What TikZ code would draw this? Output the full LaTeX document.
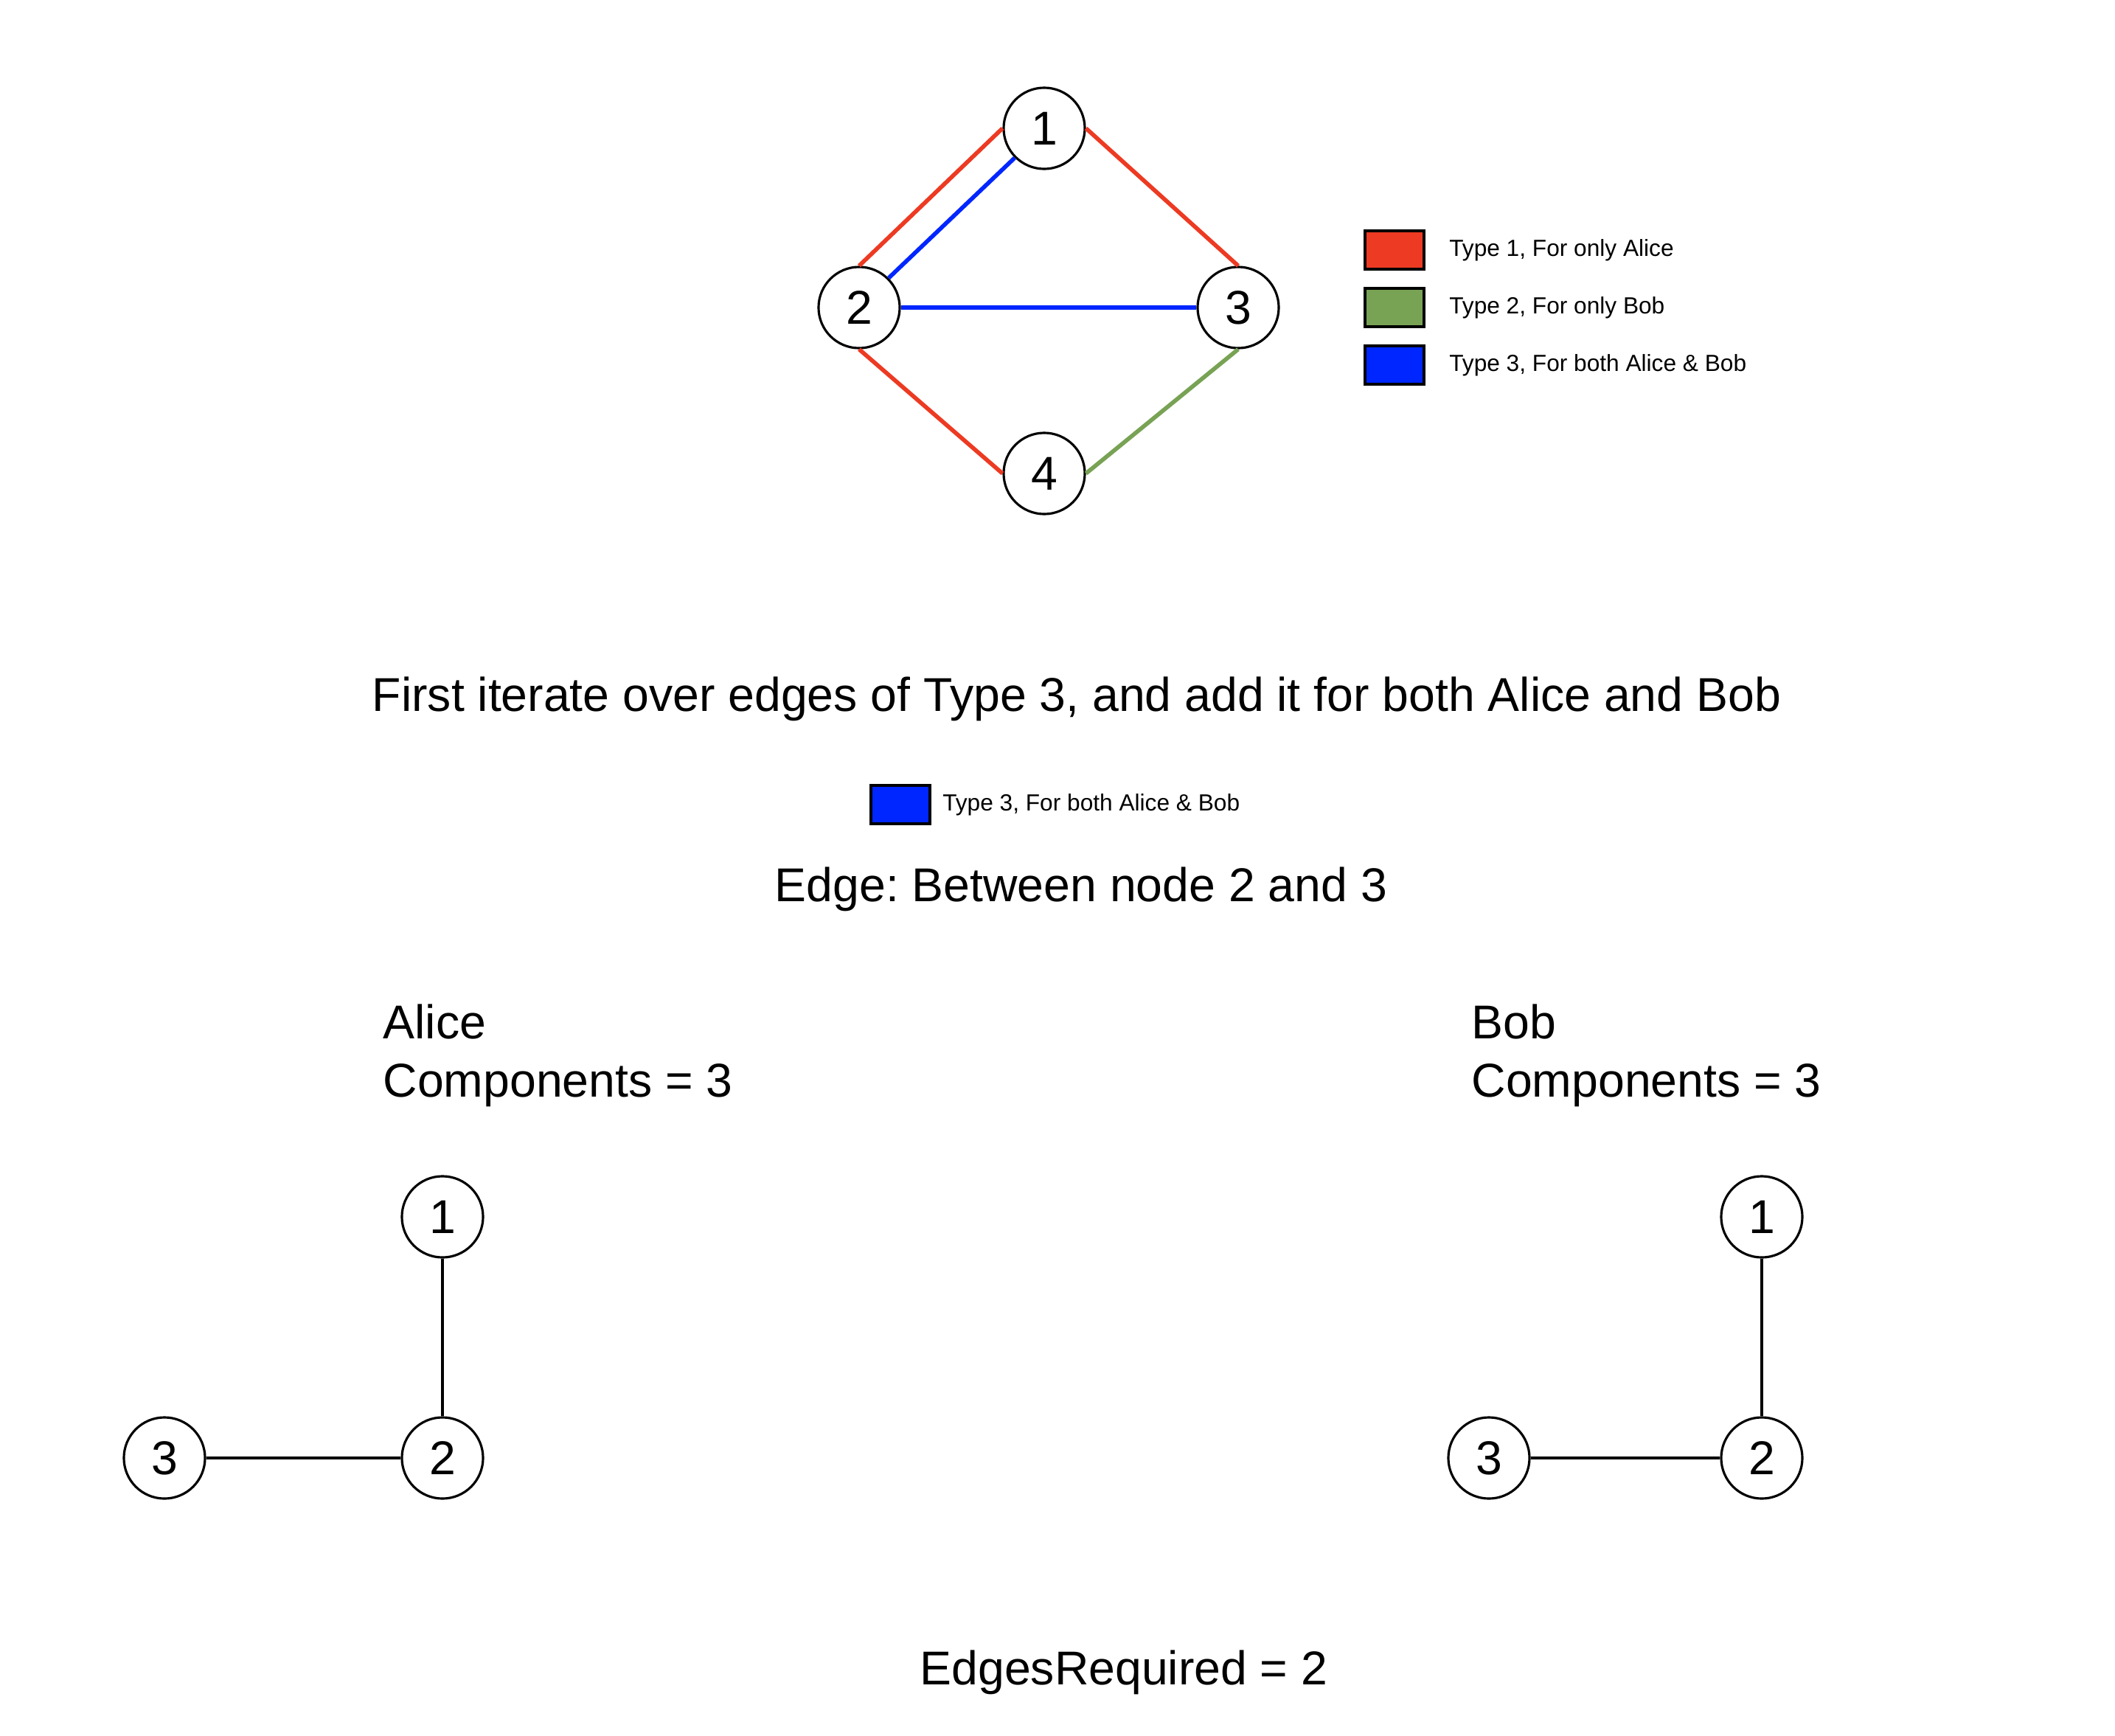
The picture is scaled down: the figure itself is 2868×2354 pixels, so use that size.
\documentclass[tikz,border=0pt]{standalone}
\usepackage{fontspec}
\setmainfont{Liberation Sans}
\usetikzlibrary{positioning}

\definecolor{alicered}{RGB}{237,58,34}
\definecolor{bobgreen}{RGB}{120,162,84}
\definecolor{bothblue}{RGB}{0,38,255}

\begin{document}
\frenchspacing
\begin{tikzpicture}[x=0.01cm,y=-0.01cm,
  font=\fontsize{18.3}{22.4}\selectfont,
  vertex/.style={circle,draw,line width=0.9pt,fill=white,minimum size=1.1cm,inner sep=0pt},
  typeone/.style={draw=alicered,line width=1.6pt},
  typetwo/.style={draw=bobgreen,line width=1.6pt},
  typethree/.style={draw=bothblue,line width=1.6pt},
  plain/.style={draw,line width=1pt},
  swatch/.style={draw,line width=0.9pt,minimum width=0.8cm,minimum height=0.52cm,inner sep=0pt},
  legtext/.style={font=\fontsize{9}{11}\selectfont,inner sep=0pt,anchor=west},
  caption/.style={align=left,anchor=west,inner sep=0pt}
]
  \useasboundingbox (0,0) rectangle (2868,2354);

  % full graph
  \node[vertex] (n1) at (1416,174) {1};
  \node[vertex] (n2) at (1165,417) {2};
  \node[vertex] (n3) at (1679,417) {3};
  \node[vertex] (n4) at (1416,642) {4};
  \draw[typeone] (n2.north) -- (n1.west);
  \draw[typethree] (n2.north east) -- (n1.south west);
  \draw[typeone] (n1.east) -- (n3.north);
  \draw[typethree] (n2.east) -- (n3.west);
  \draw[typeone] (n2.south) -- (n4.west);
  \draw[typetwo] (n3.south) -- (n4.east);

  % legend
  \node[swatch,fill=alicered] (k1) at (1891,339) {};
  \node[swatch,fill=bobgreen] (k2) at (1891,417) {};
  \node[swatch,fill=bothblue] (k3) at (1891,495) {};
  \node[legtext,right=0.32cm of k1] (t1) {Type 1, For only Alice};
  \node[legtext,right=0.32cm of k2] (t2) {Type 2, For only Bob};
  \node[legtext,right=0.32cm of k3] (t3) {Type 3, For both Alice \& Bob};

  \node (step) at (1460,948) {First iterate over edges of Type 3, and add it for both Alice and Bob};
  \node[swatch,fill=bothblue] (k4) at (1221,1091) {};
  \node[legtext,right=0.15cm of k4] (t4) {Type 3, For both Alice \& Bob};
  \node (edge) at (1466,1206) {Edge: Between node 2 and 3};

  % Alice
  \node[caption] (alice) at (519,1431) {Alice\\Components = 3};
  \node[vertex] (a1) at (600,1650) {1};
  \node[vertex] (a2) at (600,1977) {2};
  \node[vertex] (a3) at (223,1977) {3};
  \draw[plain] (a1) -- (a2);
  \draw[plain] (a3) -- (a2);

  % Bob
  \node[caption] (bob) at (1995,1431) {Bob\\Components = 3};
  \node[vertex] (b1) at (2389,1650) {1};
  \node[vertex] (b2) at (2389,1977) {2};
  \node[vertex] (b3) at (2019,1977) {3};
  \draw[plain] (b1) -- (b2);
  \draw[plain] (b3) -- (b2);

  \node (need) at (1524,2268) {EdgesRequired = 2};
\end{tikzpicture}
\end{document}
